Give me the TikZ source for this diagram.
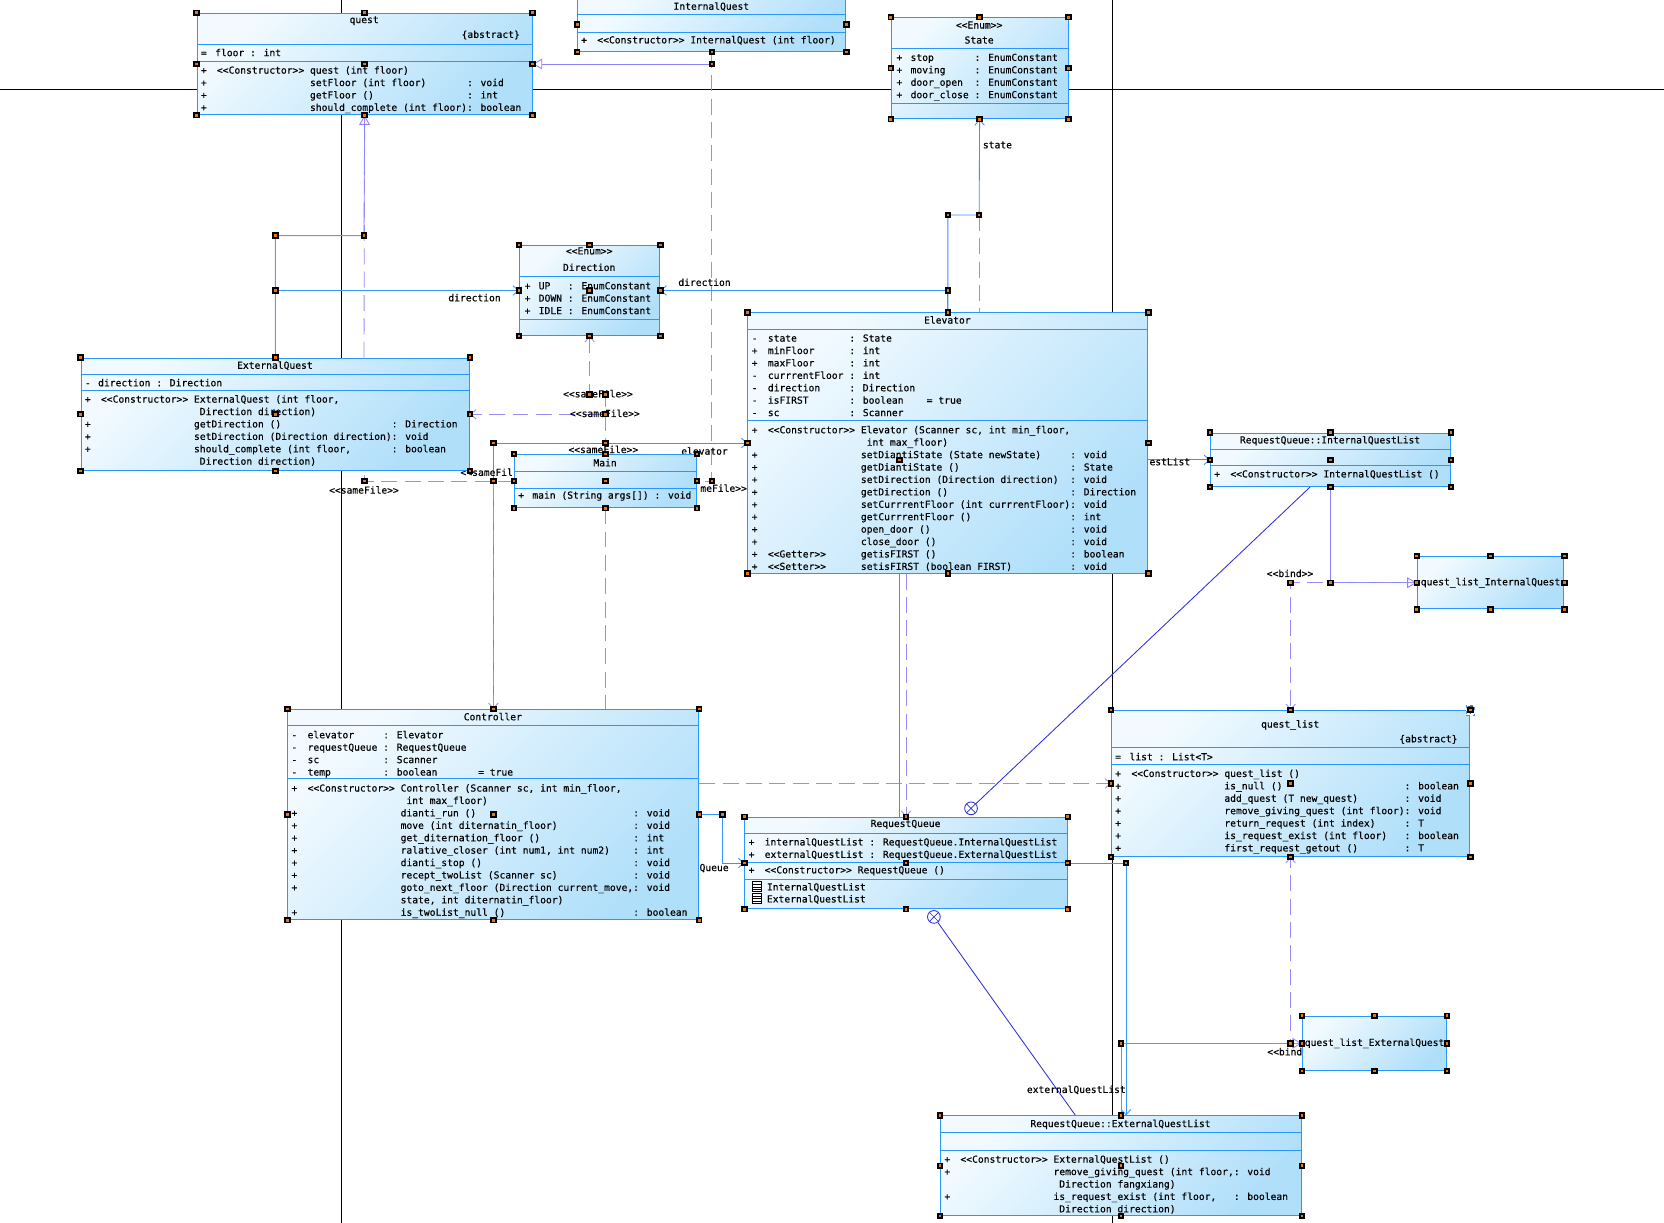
\documentclass[tikz,border=0pt]{standalone}
\usepackage{fontspec}
\usepackage{tikz}
\usetikzlibrary{arrows.meta,positioning,calc,backgrounds}
\newfontfamily\umlmono{DejaVu Sans Mono}[FakeBold=0.35]
\newcommand{\umlfont}{\umlmono\fontsize{9.1}{11.7}\selectfont}
\newcommand{\stereo}[1]{<{}<#1>{}>}
\definecolor{umlblue}{RGB}{40,150,250}
\definecolor{boxlight}{RGB}{242,250,255}
\definecolor{boxdark}{RGB}{176,223,250}
\definecolor{assocblue}{RGB}{55,150,250}
\definecolor{genlav}{RGB}{140,130,250}
\definecolor{deplav}{RGB}{150,140,250}
\definecolor{nestblue}{RGB}{45,45,225}
\definecolor{handorange}{RGB}{225,120,20}

\begin{document}
\begin{tikzpicture}[x=1pt,y=-1pt,
  cls/.style={rectangle,draw=umlblue,line width=0.9pt,top color=boxlight,
    bottom color=boxdark,shading angle=45,anchor=north west,inner sep=0},
  sepline/.style={umlblue,line width=0.9pt},
  ttl/.style={font=\umlfont,inner sep=0},
  row/.style={font=\umlfont,inner sep=0,anchor=west},
  txt/.style={font=\umlfont,inner sep=0,anchor=north west},
  lbl/.style={font=\umlfont,inner sep=0},
  assoc/.style={draw=assocblue,line width=0.8pt,-{Straight Barb[length=5pt,width=9pt]}},
  gen/.style={draw=genlav,line width=0.8pt,-{Triangle[open,length=9pt,width=10pt]}},
  dep/.style={draw=deplav,line width=0.8pt,dash pattern=on 15pt off 7pt},
  depa/.style={dep,-{Straight Barb[length=5pt,width=9pt]}},
  nest/.style={draw=nestblue,line width=0.8pt},
  nestc/.style={circle,draw=nestblue,line width=0.8pt,fill=white,minimum size=12pt,inner sep=0,
    path picture={\draw[nestblue,line width=0.6pt]
      (path picture bounding box.north west) -- (path picture bounding box.south east)
      (path picture bounding box.north east) -- (path picture bounding box.south west);}},
  handle/.style={rectangle,fill=black,inner sep=0,minimum size=6pt,
    path picture={\fill[handorange] ($(path picture bounding box.center)+(-1.2,-1.2)$)
      rectangle ($(path picture bounding box.center)+(1.2,1.2)$);}},
  pageline/.style={black,line width=1pt},
]
\useasboundingbox (0,0) rectangle (1568,1152);
\coordinate (eqbend) at (343,222);
\coordinate (stbend) at (922.65,202.6);
\coordinate (rqx) at (847.5,600);
\coordinate (eqlx) at (1061,900);
\coordinate (nx1) at (1234.5,460);
\coordinate (nx2) at (1013.4,1040);

% quest
\node[cls,minimum width=315.7pt,minimum height=95.7pt] (quest) at (185.3,12) {};
\draw[sepline] (185.3,41.7) -- (501,41.7);
\draw[sepline] (185.3,57.5) -- (501,57.5);
\node[ttl] (quest-n) at (343.15,19.5) {quest};
\node[ttl,anchor=east] (quest-k) at (490,33) {\{abstract\}};
\node[row] (quest-a) at (189.1,49.5) {=\hspace{8pt}floor : int};
\node[txt] (quest-m) at (189.1,61) {\begin{tabular}{@{}l@{\hspace{9.7pt}}l@{\ }l@{}l@{}}
+ & \stereo{Constructor} & \multicolumn{2}{@{}l@{}}{quest (int floor)}\\
+ & & setFloor (int floor) & : void\\
+ & & getFloor () & : int\\
+ & & should\_complete (int floor) & : boolean
\end{tabular}};

% InternalQuest
\node[cls,minimum width=252.6pt,minimum height=51pt] (iq) at (544,-3) {};
\draw[sepline] (544,13.5) -- (796.6,13.5);
\draw[sepline] (544,30.4) -- (796.6,30.4);
\node[ttl] (iq-n) at (670.3,6.3) {InternalQuest};
\node[row] (iq-m) at (547.5,38) {+\hspace{9.7pt}\stereo{Constructor} InternalQuest (int floor)};

% State
\node[cls,minimum width=166.7pt,minimum height=95.2pt] (state) at (839.3,16.3) {};
\draw[sepline] (839.3,45.5) -- (1006,45.5);
\draw[sepline] (839.3,97.4) -- (1006,97.4);
\node[ttl] (state-s) at (922.65,23.6) {\stereo{Enum}};
\node[ttl] (state-n) at (922.65,37.7) {State};
\node[txt] (state-a) at (844.6,49) {\begin{tabular}{@{}l@{\hspace{7.8pt}}l@{\ }l@{}}
+ & stop & : EnumConstant\\
+ & moving & : EnumConstant\\
+ & door\_open & : EnumConstant\\
+ & door\_close & : EnumConstant
\end{tabular}};

% Direction
\node[cls,minimum width=132.4pt,minimum height=84.8pt] (dir) at (489,230.9) {};
\draw[sepline] (489,260.7) -- (621.4,260.7);
\draw[sepline] (489,300.6) -- (621.4,300.6);
\node[ttl] (dir-s) at (555.2,236.5) {\stereo{Enum}};
\node[ttl] (dir-n) at (555.2,251.9) {Direction};
\node[txt] (dir-a) at (494.2,264.2) {\begin{tabular}{@{}l@{\hspace{7.8pt}}l@{\ }l@{}}
+ & UP & : EnumConstant\\
+ & DOWN & : EnumConstant\\
+ & IDLE & : EnumConstant
\end{tabular}};

% ExternalQuest
\node[cls,minimum width=366.1pt,minimum height=105.9pt] (eq) at (76,337) {};
\draw[sepline] (76,352.7) -- (442.1,352.7);
\draw[sepline] (76,367.5) -- (442.1,367.5);
\node[ttl] (eq-n) at (259.05,344.6) {ExternalQuest};
\node[row] (eq-a) at (79.8,360.6) {-\hspace{7pt}direction : Direction};
\node[txt] (eq-m) at (79.8,371) {\begin{tabular}{@{}l@{\hspace{9.7pt}}l@{\ }l@{}l@{}}
+ & \stereo{Constructor} & ExternalQuest (int floor, & \\
 & & \ Direction direction) & \\
+ & & getDirection () & : Direction\\
+ & & setDirection (Direction direction) & : void\\
+ & & should\_complete (int floor, & : boolean\\
 & & \ Direction direction) &
\end{tabular}};

% Main
\node[cls,minimum width=171.5pt,minimum height=50.2pt] (main) at (484.4,427.8) {};
\draw[sepline] (484.4,444.5) -- (655.9,444.5);
\draw[sepline] (484.4,460.2) -- (655.9,460.2);
\node[ttl] (main-n) at (570.15,436) {Main};
\node[row] (main-m) at (488.2,467.4) {+\hspace{7.8pt}main (String args[]) : void};

% Elevator
\node[cls,minimum width=377pt,minimum height=245.3pt] (elev) at (704.2,294.3) {};
\draw[sepline] (704.2,310) -- (1081.2,310);
\draw[sepline] (704.2,396.4) -- (1081.2,396.4);
\node[ttl] (elev-n) at (892.7,301.5) {Elevator};
\node[txt] (elev-a) at (708.2,313.5) {\begin{tabular}{@{}l@{\hspace{9.7pt}}l@{\ }l@{\ \ }l@{}}
- & state & : State & \\
+ & minFloor & : int & \\
+ & maxFloor & : int & \\
- & currrentFloor & : int & \\
- & direction & : Direction & \\
- & isFIRST & : boolean & = true\\
- & sc & : Scanner &
\end{tabular}};
\node[txt] (elev-m) at (708.2,399.9) {\begin{tabular}{@{}l@{\hspace{9.7pt}}l@{\ }l@{}l@{}}
+ & \stereo{Constructor} & \multicolumn{2}{@{}l@{}}{Elevator (Scanner sc, int min\_floor,}\\
 & & \ int max\_floor) & \\
+ & & setDiantiState (State newState) & : void\\
+ & & getDiantiState () & : State\\
+ & & setDirection (Direction direction) & : void\\
+ & & getDirection () & : Direction\\
+ & & setCurrrentFloor (int currrentFloor) & : void\\
+ & & getCurrrentFloor () & : int\\
+ & & open\_door () & : void\\
+ & & close\_door () & : void\\
+ & \stereo{Getter} & getisFIRST () & : boolean\\
+ & \stereo{Setter} & setisFIRST (boolean FIRST) & : void
\end{tabular}};

% RequestQueue::InternalQuestList
\node[cls,minimum width=226.2pt,minimum height=50.3pt] (iql) at (1140.2,407.7) {};
\draw[sepline] (1140.2,423.4) -- (1366.4,423.4);
\draw[sepline] (1140.2,438.8) -- (1366.4,438.8);
\node[ttl] (iql-n) at (1253.3,415.3) {RequestQueue::InternalQuestList};
\node[row] (iql-m) at (1144,447) {+\hspace{9.7pt}\stereo{Constructor} InternalQuestList ()};

% quest_list_InternalQuest
\node[cls,minimum width=138.2pt,minimum height=49.3pt] (qli) at (1335,524) {};
\node[ttl] (qli-n) at (qli.center) {quest\_list\_InternalQuest};

% Controller
\node[cls,minimum width=387.2pt,minimum height=198.2pt] (ctrl) at (270.8,668.1) {};
\draw[sepline] (270.8,683.8) -- (658,683.8);
\draw[sepline] (270.8,734) -- (658,734);
\node[ttl] (ctrl-n) at (464.4,675.3) {Controller};
\node[txt] (ctrl-a) at (274.5,687.3) {\begin{tabular}{@{}l@{\hspace{9.7pt}}l@{\ }l@{\ \ }l@{}}
- & elevator & : Elevator & \\
- & requestQueue & : RequestQueue & \\
- & sc & : Scanner & \\
- & temp & : boolean & = true
\end{tabular}};
\node[txt] (ctrl-m) at (274.5,737.5) {\begin{tabular}{@{}l@{\hspace{9.7pt}}l@{\ }l@{}l@{}}
+ & \stereo{Constructor} & \multicolumn{2}{@{}l@{}}{Controller (Scanner sc, int min\_floor,}\\
 & & \ int max\_floor) & \\
+ & & dianti\_run () & : void\\
+ & & move (int diternatin\_floor) & : void\\
+ & & get\_diternation\_floor () & : int\\
+ & & ralative\_closer (int num1, int num2) & : int\\
+ & & dianti\_stop () & : void\\
+ & & recept\_twoList (Scanner sc) & : void\\
+ & & goto\_next\_floor (Direction current\_move, & : void\\
 & & state, int diternatin\_floor) & \\
+ & & is\_twoList\_null () & : boolean
\end{tabular}};

% RequestQueue
\node[cls,minimum width=303.8pt,minimum height=86.3pt] (rq) at (701.4,769.6) {};
\draw[sepline] (701.4,785.3) -- (1005.2,785.3);
\draw[sepline] (701.4,812.6) -- (1005.2,812.6);
\draw[sepline] (701.4,828.6) -- (1005.2,828.6);
\node[ttl] (rq-n) at (853.3,776.8) {RequestQueue};
\node[txt] (rq-a) at (705.2,788.3) {\begin{tabular}{@{}l@{\hspace{9.7pt}}l@{\ }l@{}}
+ & internalQuestList & : RequestQueue.InternalQuestList\\
+ & externalQuestList & : RequestQueue.ExternalQuestList
\end{tabular}};
\node[row] (rq-m) at (705.2,820.5) {+\hspace{9.7pt}\stereo{Constructor} RequestQueue ()};
\foreach \k in {0,1}{
  \draw[black,line width=0.5pt,fill=white] (708.5,{830.8+11*\k}) rectangle (717.5,{840.3+11*\k});
  \foreach \j in {1,2,3}
    \draw[black,line width=0.5pt] (708.5,{830.8+11*\k+2.4*\j}) -- (717.5,{830.8+11*\k+2.4*\j});
}
\node[row] (rq-i) at (722.5,836.2) {InternalQuestList};
\node[row] (rq-e) at (722.5,847.5) {ExternalQuestList};

% quest_list
\node[cls,minimum width=337.7pt,minimum height=137.6pt] (ql) at (1046.9,669) {};
\draw[sepline] (1046.9,704.5) -- (1384.6,704.5);
\draw[sepline] (1046.9,720.2) -- (1384.6,720.2);
\node[ttl] (ql-n) at (1215.75,683.2) {quest\_list};
\node[ttl,anchor=east] (ql-k) at (1373.6,696.7) {\{abstract\}};
\node[row] (ql-a) at (1050.7,713) {=\hspace{8pt}list : List<T>};
\node[txt] (ql-m) at (1050.7,723.7) {\begin{tabular}{@{}l@{\hspace{9.7pt}}l@{\ }l@{}l@{}}
+ & \stereo{Constructor} & \multicolumn{2}{@{}l@{}}{quest\_list ()}\\
+ & & is\_null () & : boolean\\
+ & & add\_quest (T new\_quest) & : void\\
+ & & remove\_giving\_quest (int floor) & : void\\
+ & & return\_request (int index) & : T\\
+ & & is\_request\_exist (int floor) & : boolean\\
+ & & first\_request\_getout () & : T
\end{tabular}};
\node[draw=umlblue,dashed,fill=white,font=\umlfont,inner sep=1.2pt] (ql-T) at (ql.north east) {T};

% quest_list_ExternalQuest
\node[cls,minimum width=136pt,minimum height=51.2pt] (qle) at (1226.8,957.1) {};
\node[ttl] (qle-n) at (qle.center) {quest\_list\_ExternalQuest};

% RequestQueue::ExternalQuestList
\node[cls,minimum width=339.9pt,minimum height=94pt] (eql) at (885.9,1051) {};
\draw[sepline] (885.9,1067.3) -- (1225.8,1067.3);
\draw[sepline] (885.9,1083.7) -- (1225.8,1083.7);
\node[ttl] (eql-n) at (1055.85,1059.5) {RequestQueue::ExternalQuestList};
\node[txt] (eql-m) at (889.7,1087.2) {\begin{tabular}{@{}l@{\hspace{9.7pt}}l@{\ }l@{}l@{}}
+ & \stereo{Constructor} & \multicolumn{2}{@{}l@{}}{ExternalQuestList ()}\\
+ & & remove\_giving\_quest (int floor, & : void\\
 & & \ Direction fangxiang) & \\
+ & & is\_request\_exist (int floor, & : boolean\\
 & & \ Direction direction) &
\end{tabular}};

\node[nestc] (nc1) at (915,761.7) {};
\node[nestc] (nc2) at (880,864) {};

\coordinate (eqtop) at (eq.north |- eqbend);
\coordinate (eqdir) at (eq.north |- dir.west);
\coordinate (elst) at (elev.north |- stbend);
\coordinate (eldir) at (elev.north |- dir.east);
\coordinate (ctel) at (ctrl.north |- elev.west);
\coordinate (mnel) at (main.north |- elev.west);
\coordinate (mnct) at (main.west -| ctrl.north);
\coordinate (mneq) at (main.west -| quest.south);
\coordinate (ctrq) at ($(ctrl.east)+(22,0)$);
\coordinate (bindi) at (qli.west -| ql.north);
\coordinate (genqi) at (qli.west -| iql.south);
\coordinate (binde) at (qle.west -| ql.south);
\coordinate (genqe) at (qle.west -| eql.north);
\coordinate (rqeq) at (rq.east -| eqlx);
\coordinate (iqq) at (iq.south |- quest.east);
\coordinate (iqm) at (iq.south |- main.east);
\coordinate (mndir) at ($(main.north)+(0,-56)$);
\coordinate (mndir2) at (mndir -| dir.south);
\coordinate (mneqe) at (main.north |- eq.east);
\coordinate (rqiq) at (rqx |- iql.west);

\foreach \b in {quest,iq,state,dir,eq,main,elev,iql,qli,ctrl,rq,ql,qle,eql}
  \foreach \a in {north west,north,north east,east,south east,south,south west,west}
    \node[handle] (h-\b-\a) at (\b.\a) {};
\foreach \b in {quest,dir,eq,main,ctrl,rq,iql,ql,eql}
  \node[handle] (hc-\b) at (\b.center) {};
\foreach \c in {eqbend,eqtop,eqdir,elst,eldir,stbend,ctel,mnel,mnct,mneq,ctrq,bindi,
    genqi,binde,genqe,rqeq,iqq,iqm,mndir,mndir2,mneqe,rqiq}
  \node[handle] (h-\c) at (\c) {};

\begin{pgfonlayer}{background}
\fill[white] (0,0) rectangle (1568,1152);
\draw[pageline] (0,84.2) -- (1568,84.2);
\draw[pageline] (322,0) -- (322,1152);
\draw[pageline] (1048.5,0) -- (1048.5,1152);

\draw[gen] (iq.south) -- (iqq) -- (quest.east);
\draw[dep] (iq.south) -- (iqm) -- (main.east);
\draw[gen] (eq.north) -- (eqtop) -- (eqbend) -- (quest.south);
\draw[dep] (eq.north -| eqbend) -- (quest.south);
\draw[assoc] (eqdir) -- (dir.west);
\draw[assoc] (elev.north) -- (eldir) -- (dir.east);
\draw[assoc] (elev.north) -- (elst) -- (stbend) -- (state.south);
\draw[dep] (stbend) -- (stbend |- elev.north);
\draw[depa] (main.north) -- (mndir) -- (mndir2) -- (dir.south);
\draw[depa] (main.north) -- (mneqe) -- (eq.east);
\draw[assoc] (ctrl.north) -- (ctel) -- (elev.west);
\draw[depa] (main.west) -- (mnct) -- (ctrl.north);
\draw[dep] (main.west) -- (mneq) -- (eq.south -| mneq);
\draw[dep] (main.south) -- (main.south |- ctrl.north);
\draw[assoc] (ctrl.east) -- (ctrq) |- (rq.west);
\draw[depa] (ctrl.east |- ql.west) -- (ql.west);
\draw[assoc] (rq.north -| rqx) -- (rqiq) -- (iql.west);
\draw[depa] (rq.north |- elev.south) -- (rq.north);
\draw[assoc] (rq.east) -- (rqeq) -- (eqlx |- eql.north);
\draw[nest] (iql.south -| nx1) -- (nc1);
\draw[nest] (nc2) -- (eql.north -| nx2);
\draw[gen] (iql.south) -- (genqi) -- (qli.west);
\draw[depa] (qli.west) -- (bindi) -- (ql.north);
\draw[gen] (eql.north) -- (genqe) -- (qle.west);
\draw[depa] (qle.west) -- (binde) -- (ql.south);

\node[lbl,anchor=east] (l-eqdir) at (472,280.5) {direction};
\node[lbl,anchor=west] (l-eldir) at (639,266) {direction};
\node[lbl,anchor=west] (l-state) at (926,136.6) {state};
\node[lbl] (l-sf1) at (563.5,371) {\stereo{sameFile}};
\node[lbl] (l-sf2) at (570,389.5) {\stereo{sameFile}};
\node[lbl] (l-sf3) at (568.5,423.5) {\stereo{sameFile}};
\node[lbl,anchor=east] (l-sf4) at (483.5,445) {<{}<sameFil};
\node[lbl] (l-sf5) at (343,461.7) {\stereo{sameFile}};
\node[lbl,anchor=east] (l-sf6) at (704,460) {meFile>{}>};
\node[lbl,anchor=east] (l-elev) at (686,425) {elevator};
\node[lbl,anchor=west] (l-rq) at (659,818) {Queue};
\node[lbl,anchor=west] (l-iql) at (1083,435) {estList};
\node[lbl,anchor=east] (l-eql) at (1061,1027) {externalQuestList};
\node[lbl] (l-bind1) at (1215.6,540.3) {\stereo{bind}};
\node[lbl,anchor=west] (l-bind2) at (1194,991) {<{}<bind};
\end{pgfonlayer}
\end{tikzpicture}
\end{document}
